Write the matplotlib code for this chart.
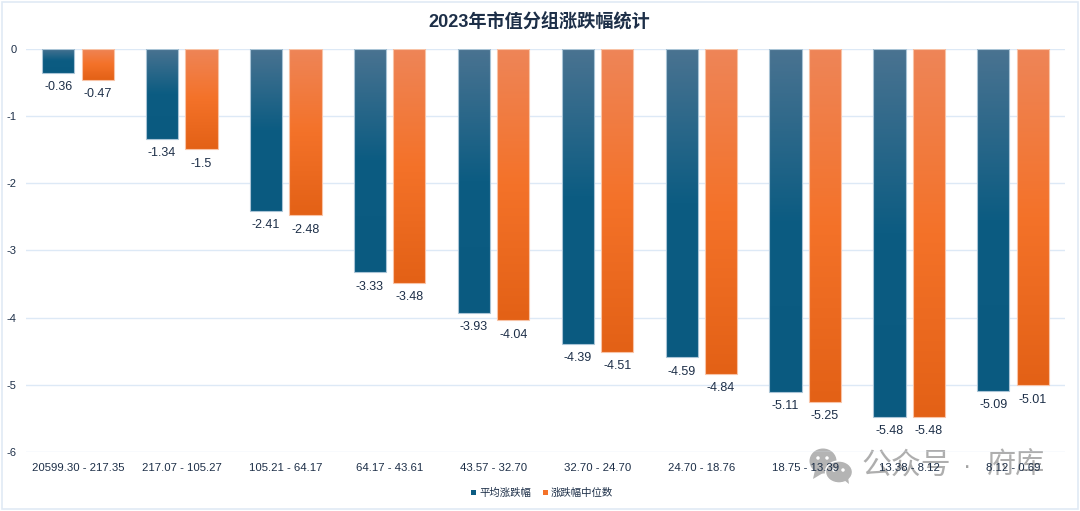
import numpy as np
import matplotlib
matplotlib.use('Agg')
import matplotlib.pyplot as plt
from matplotlib.colors import LinearSegmentedColormap
from matplotlib.patches import Ellipse, Rectangle, Polygon

plt.rcParams['font.family'] = ['Liberation Sans', 'Noto Sans CJK SC', 'DejaVu Sans']

# data
groups = ['20599.30 - 217.35', '217.07 - 105.27', '105.21 - 64.17', '64.17 - 43.61',
          '43.57 - 32.70', '32.70 - 24.70', '24.70 - 18.76', '18.75 - 13.39',
          '13.38 - 8.12', '8.12 - 0.69']
mean_chg = [-0.36, -1.34, -2.41, -3.33, -3.93, -4.39, -4.59, -5.11, -5.48, -5.09]
median_chg = [-0.47, -1.5, -2.48, -3.48, -4.04, -4.51, -4.84, -5.25, -5.48, -5.01]
mean_labels = ['-0.36', '-1.34', '-2.41', '-3.33', '-3.93', '-4.39', '-4.59', '-5.11', '-5.48', '-5.09']
median_labels = ['-0.47', '-1.5', '-2.48', '-3.48', '-4.04', '-4.51', '-4.84', '-5.25', '-5.48', '-5.01']
yticks = [0, -1, -2, -3, -4, -5, -6]

W, H = 1080, 511
TEXT = '#1d2f48'
GRID = '#dde9f6'

blue_cm = LinearSegmentedColormap.from_list('b', ['#4a7391', '#0c5c82', '#0a5a80'])
orange_cm = LinearSegmentedColormap.from_list('o', ['#ee8558', '#f47229', '#e36116'])

fig = plt.figure(figsize=(W / 100, H / 100), dpi=100)
fig.patches.append(Rectangle((1.5 / W, 2 / H), 1076 / W, 507 / H, transform=fig.transFigure,
                             fill=False, edgecolor='#e0eaf5', linewidth=1.2))

ax = fig.add_axes([26 / W, 1 - 452 / H, 1039 / W, 403.5 / H])
# axes sit above the watermark so the tick labels stay readable over it
ax.set_zorder(10)
ax.patch.set_visible(False)
ax.set_xlim(-0.5, 9.5)
ax.set_ylim(-6, 0)
for s in ax.spines.values():
    s.set_visible(False)
ax.set_yticks(yticks)
ax.set_yticklabels([str(t) for t in yticks], fontsize=8, color=TEXT)
ax.tick_params(axis='y', length=0, pad=7)
ax.tick_params(axis='x', length=0, pad=8)
ax.set_xticks(range(len(groups)))
ax.set_xticklabels(groups, fontsize=8.2, color=TEXT)
ax.grid(axis='y', color=GRID, linewidth=1)
ax.set_axisbelow(True)

x = np.arange(len(groups))
bw = 0.31
off = 0.19
grad = np.linspace(0, 1, 256).reshape(-1, 1)


def draw_bars(xs, vals, cmap, edge):
    bars = ax.bar(xs, vals, bw, color='none', edgecolor=edge, linewidth=0.8, zorder=3)
    for b in bars:
        x0 = b.get_x()
        im = ax.imshow(grad, cmap=cmap, aspect='auto', zorder=2.5, vmin=0, vmax=1,
                       extent=(x0, x0 + b.get_width(), b.get_y() + b.get_height(), b.get_y()))
        im.set_clip_path(b)
    return bars


draw_bars(x - off, mean_chg, blue_cm, '#a9c4d6')
draw_bars(x + off, median_chg, orange_cm, '#f8c3a6')
ax.set_xlim(-0.5, 9.5)
ax.set_ylim(-6, 0)

for xi, v, lab in zip(x - off, mean_chg, mean_labels):
    ax.annotate(lab, (xi, v), xytext=(0, -6), textcoords='offset points', ha='center', va='top',
                fontsize=9, color=TEXT, zorder=5)
for xi, v, lab in zip(x + off, median_chg, median_labels):
    ax.annotate(lab, (xi, v), xytext=(0, -6), textcoords='offset points', ha='center', va='top',
                fontsize=9, color=TEXT, zorder=5)

fig.text(539.5 / W, 1 - 22 / H, '2023年市值分组涨跌幅统计', ha='center', va='center',
         fontsize=13.1, fontweight='bold', color=TEXT)

# legend, placed by hand like the original
fig.patches.append(Rectangle((471 / W, 1 - 495 / H), 5 / W, 5 / H, transform=fig.transFigure,
                             facecolor='#0c5c82', edgecolor='none'))
fig.text(479 / W, 1 - 492.5 / H, '平均涨跌幅', ha='left', va='center', fontsize=7.5, color=TEXT)
fig.patches.append(Rectangle((543 / W, 1 - 495 / H), 5 / W, 5 / H, transform=fig.transFigure,
                             facecolor='#f47229', edgecolor='none'))
fig.text(551 / W, 1 - 492.5 / H, '涨跌幅中位数', ha='left', va='center', fontsize=7.5, color=TEXT)

# watermark
wm = '#8c8c8c'
fig.patches.append(Ellipse((823 / W, 1 - 461 / H), 27 / W, 25 / H, transform=fig.transFigure,
                           facecolor='#b4b4b4', edgecolor='none', zorder=1))
fig.patches.append(Polygon([(815 / W, 1 - 470 / H), (813 / W, 1 - 479 / H), (823 / W, 1 - 473 / H)],
                           transform=fig.transFigure, facecolor='#b4b4b4', edgecolor='none', zorder=1))
fig.patches.append(Ellipse((839 / W, 1 - 472 / H), 27 / W, 22 / H, transform=fig.transFigure,
                           facecolor='#b4b4b4', edgecolor='white', linewidth=1, zorder=1.1))
fig.patches.append(Polygon([(844 / W, 1 - 480 / H), (849 / W, 1 - 484 / H), (848 / W, 1 - 477 / H)],
                           transform=fig.transFigure, facecolor='#b4b4b4', edgecolor='none', zorder=1.1))
for ex, ey in [(818, 458), (827, 458), (834, 470), (843, 470)]:
    fig.patches.append(Ellipse((ex / W, 1 - ey / H), 3.5 / W, 3.5 / H, transform=fig.transFigure,
                               facecolor='white', edgecolor='none', zorder=1.2))
fig.text(861 / W, 1 - 466 / H, '公众号', ha='left', va='center', fontsize=21.5, color=wm, alpha=0.7, zorder=2)
fig.text(967 / W, 1 - 467 / H, '·', ha='center', va='center', fontsize=18, color=wm, alpha=0.8, zorder=2)
fig.text(987 / W, 1 - 466 / H, '府库', ha='left', va='center', fontsize=21, color=wm, alpha=0.7, zorder=2)

fig.savefig('out.png', dpi=100)
